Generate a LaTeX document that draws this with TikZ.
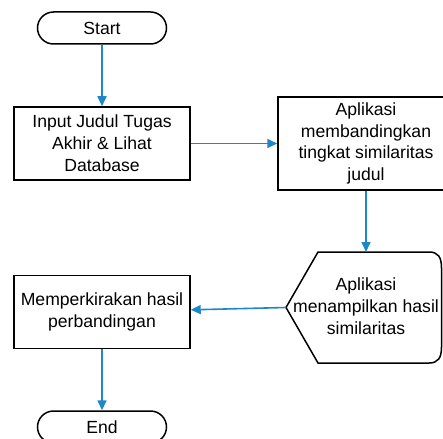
\documentclass[tikz,border=0pt]{standalone}
\usepackage{fontspec}
\setmainfont{Liberation Sans}
\usetikzlibrary{arrows.meta}
\definecolor{flowblue}{RGB}{30,135,200}
\begin{document}
\begin{tikzpicture}[x=1pt,y=-1pt,
  every node/.style={font=\fontsize{17.6}{21.8}\selectfont, align=center, inner sep=0pt},
  procbox/.style={draw=black, line width=1.5pt, minimum width=176pt},
  termbox/.style={draw=black, line width=1.5pt, rounded corners=16pt, minimum width=129pt, minimum height=32pt},
  flow/.style={draw=flowblue, line width=1.6pt, -{Triangle[length=10pt,width=9pt]}}
]
\useasboundingbox (0,0) rectangle (443,438);
\node[termbox] (start) at (102,28) {Start};
\node[procbox, minimum height=73pt] (input) at (102,143.5) {Input Judul Tugas\\Akhir \& Lihat\\Database};
\node[procbox, minimum height=93pt] (compare) at (366,143.5) {Aplikasi\\membandingkan\\tingkat similaritas\\judul};
\draw[line width=1.5pt] (286,307.5) -- (318,252) -- (429,252)
  .. controls (438,252) and (441.5,257) .. (441.5,268) -- (441.5,347)
  .. controls (441.5,358) and (438,363) .. (429,363) -- (318,363) -- cycle;
\coordinate (showN) at (366,252);
\coordinate (showW) at (286,307.5);
\node (show) at (366,306) {Aplikasi\\menampilkan hasil\\similaritas};
\node[procbox, minimum height=73pt] (estimate) at (102,312) {Memperkirakan hasil\\perbandingan};
\node[termbox] (end) at (102,427) {End};
\draw[flow] (start) -- (input);
\draw[flow] (input) -- (compare);
\draw[flow] (compare) -- (showN);
\draw[flow] (showW) -- (estimate);
\draw[flow] (estimate) -- (end);
\end{tikzpicture}
\end{document}
